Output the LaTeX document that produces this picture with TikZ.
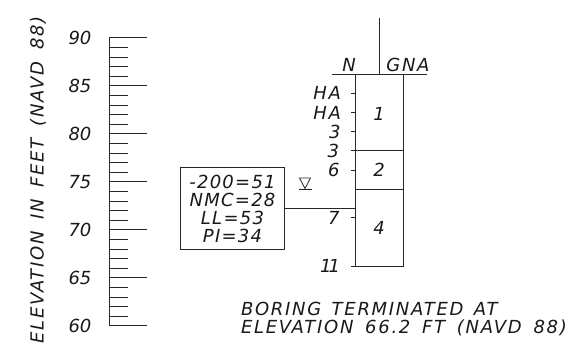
\documentclass[tikz,border=0pt]{standalone}
\usepackage{fontspec}
\setmainfont{DejaVu Sans}
\newfontfamily\widefont[LetterSpace=7]{DejaVu Sans}
\newfontfamily\widerfont[LetterSpace=9.5]{DejaVu Sans}
\newcommand{\gapw}{\kern4.3pt\ }
\tikzset{
  x=1pt,y=-1pt,
  ln/.style={line width=1pt,black!85},
  txt/.style={font=\fontsize{18}{18}\selectfont\itshape,inner sep=0pt,outer sep=0pt,text=black!90},
  wtxt/.style={font=\widefont\fontsize{18}{18}\selectfont\itshape,inner sep=0pt,outer sep=0pt,text=black!90},
  xtxt/.style={font=\widerfont\fontsize{18}{18}\selectfont\itshape,inner sep=0pt,outer sep=0pt,text=black!90},
}
\begin{document}
\begin{tikzpicture}
\useasboundingbox (0,0) rectangle (587,347);
% scale
\coordinate (axT) at (109,38);
\coordinate (axB) at (109,326);
\draw[ln] (axT) -- (axB);
\foreach \i in {0,...,30}{
  \pgfmathsetmacro{\yy}{38+9.6*\i}
  \pgfmathtruncatemacro{\m}{mod(\i,5)}
  \ifnum\m=0 \draw[ln] (109,\yy) -- (147,\yy); \else \draw[ln] (109,\yy) -- (128,\yy); \fi
}
\foreach \v/\yy in {90/38,85/86,80/134,75/182,70/230,65/278,60/326}
  \node[txt,anchor=center] (lab\v) at (80,\yy) {\v};
\node[xtxt,rotate=90,anchor=center] (axis) at (38,180) {ELEVATION\gapw IN\gapw FEET\gapw (NAVD\gapw 88)};
% boring
\node[draw,ln,minimum width=104pt,minimum height=82pt,inner sep=0pt,anchor=center] (box) at (232,208.5) {};
\node[wtxt,align=center,anchor=center] (boxtxt) at (232.5,208.5) {\fontsize{18}{19.3}\selectfont -200=51\\NMC=28\\LL=53\\PI=34};
\coordinate (tl) at (355,74.5); \coordinate (tr) at (403,74.5);
\coordinate (bl) at (355,266.5); \coordinate (br) at (403,266.5);
\draw[ln] (tl) -- (bl) -- (br) -- (tr);
\coordinate (hl) at (331.5,74.5); \coordinate (hr) at (427,74.5);
\draw[ln] (hl) -- (hr);
\coordinate (st) at (379,18); \coordinate (sb) at (379,74.5);
\draw[ln] (st) -- (sb);
\draw[ln] (351,151) -- (403,151);
\draw[ln] (355,189.5) -- (403,189.5);
\coordinate (join) at (355,208.5);
\draw[ln] (box.east |- join) -- (join);
\foreach \yy in {93.5,113,132,170.5,218,266.5} \draw[ln] (351,\yy) -- (355,\yy);
% water
\draw[line width=0.8pt,black!85] (299.5,178) -- (310.5,178) -- (305,188.5) -- cycle;
\draw[line width=0.8pt,black!85] (299,189) -- (311.5,189);
% labels
\node[txt,anchor=center] (n) at (349,65) {N};
\node[xtxt,anchor=center] (gna) at (408,65) {GNA};
\node[xtxt,anchor=east] at (341,93) {HA};
\node[xtxt,anchor=east] at (341,112.5) {HA};
\node[txt,anchor=east] at (340.5,131.5) {3};
\node[txt,anchor=east] at (339,150.5) {3};
\node[txt,anchor=east] at (339.5,170) {6};
\node[txt,anchor=east] at (339.5,218) {7};
\node[txt,anchor=east] at (340,266) {1\kern-3pt 1};
\node[txt,anchor=center] at (379,113.5) {1};
\node[txt,anchor=center] at (379,170) {2};
\node[txt,anchor=center] at (379,228) {4};
\node[xtxt,anchor=west,align=left] (note) at (241,319) {\fontsize{18}{16.5}\selectfont BORING\, TERMINATED\, AT\\ELEVATION\gapw 66.2\gapw FT\gapw (NAVD\gapw 88)};
\end{tikzpicture}
\end{document}
